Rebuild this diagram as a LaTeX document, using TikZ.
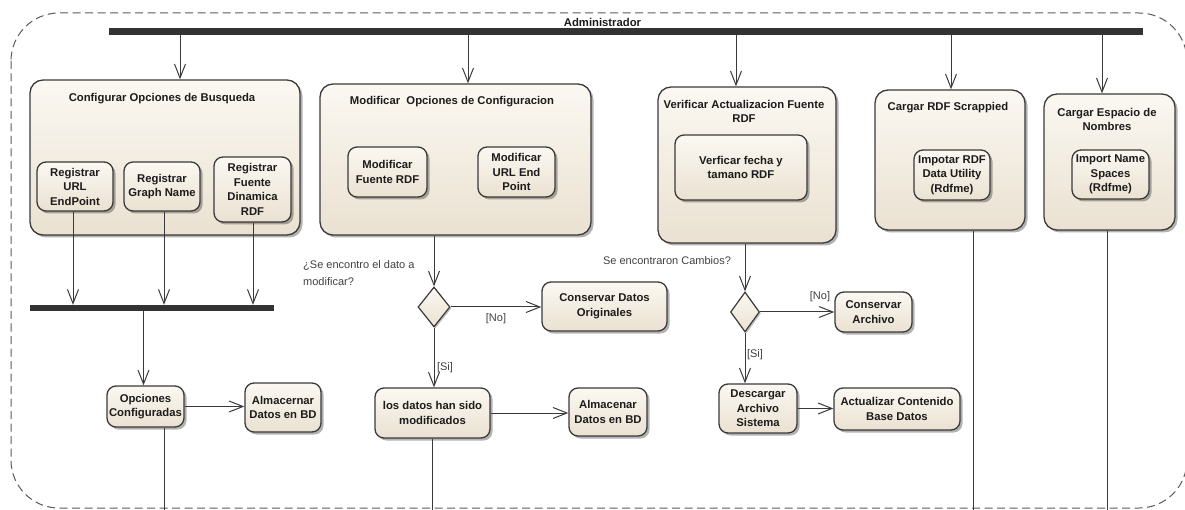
\documentclass[tikz,border=0pt]{standalone}
\usepackage{fontspec}
\setmainfont{Liberation Sans}
\usetikzlibrary{shapes.geometric,arrows.meta,shadows}

\definecolor{edge}{HTML}{3A3A3A}
\definecolor{ink}{HTML}{1C1C1C}
\definecolor{fillhi}{HTML}{FBF8F2}
\definecolor{filllo}{HTML}{EAE1D1}
\definecolor{lbl}{HTML}{404040}
\definecolor{frame}{HTML}{5A5A5A}
\definecolor{barc}{HTML}{333333}

\tikzset{
  act/.style={draw=edge, line width=1.3pt, rounded corners=#1,
    top color=fillhi, bottom color=filllo,
    drop shadow={shadow xshift=2.5pt, shadow yshift=-2.5pt, fill=black, opacity=0.3},
    inner sep=1pt, text=ink, align=center,
    font=\fontsize{11.3}{14.5}\selectfont\bfseries},
  act/.default=9pt,
  group/.style={act=13pt},
  title/.style={inner sep=0pt, text=ink, align=center,
    font=\fontsize{11.3}{14}\selectfont\bfseries},
  decision/.style={diamond, draw=edge, line width=1.2pt, inner sep=0pt,
    top color=fillhi, bottom color=filllo,
    drop shadow={shadow xshift=1.5pt, shadow yshift=-1.5pt, fill=black, opacity=0.25}},
  syncbar/.style={rectangle, fill=barc, inner sep=0pt},
  guard/.style={inner sep=0pt, text=lbl, align=left,
    font=\fontsize{11}{17}\selectfont},
  flow/.style={draw=edge, line width=1pt,
    -{Straight Barb[length=14pt, width=11pt, line width=1pt]}},
  plain/.style={draw=edge, line width=1pt},
  swimframe/.style={draw=frame, line width=1pt, dash pattern=on 8pt off 4.5pt,
    rounded corners=48pt}
}

\begin{document}
\begin{tikzpicture}[x=1pt, y=-1pt]
\useasboundingbox (0,0) rectangle (1185,510);

% activity frame
\draw[swimframe] (11,13) rectangle (1187,508);

% fork bar of the actor
\node[syncbar, minimum width=1034pt, minimum height=7pt] (top) at (626,31.5) {};
\node[title] (actor) at (602.5,22) {Administrador};

% group activities
\node[group, minimum width=270pt, minimum height=155pt] (cfg) at (165,157.5) {};
\node[title] (cfgT) at (162,99) {Configurar Opciones de Busqueda};
\node[act, minimum width=76pt, minimum height=49pt] (r1) at (75,186.5) {Registrar\\URL\\EndPoint};
\node[act, minimum width=76pt, minimum height=49pt] (r2) at (162,186.5) {Registrar\\Graph Name};
\node[act, minimum width=77pt, minimum height=65pt] (r3) at (252.5,189.5) {Registrar\\Fuente\\Dinamica\\RDF};

\node[group, minimum width=271pt, minimum height=151pt] (mod) at (455.5,159.5) {};
\node[title] (modT) at (452,102) {Modificar\ \ Opciones de Configuracion};
\node[act, minimum width=79pt, minimum height=50pt] (m1) at (387.5,172) {Modificar\\Fuente RDF};
\node[act, minimum width=77pt, minimum height=50pt] (m2) at (516.5,172) {Modificar\\URL End\\Point};

\node[group, minimum width=178pt, minimum height=156pt] (ver) at (747,165) {};
\node[title] (verT) at (744,111) {Verificar Actualizacion Fuente\\RDF};
\node[act, minimum width=132pt, minimum height=65pt] (v1) at (741,167.5) {Verficar fecha y\\tamano RDF};

\node[group, minimum width=150pt, minimum height=140pt] (crg) at (950,160) {};
\node[title] (crgT) at (948,108) {Cargar RDF Scrappied};
\node[act, minimum width=76pt, minimum height=50pt] (i4) at (952,175) {Impotar RDF\\Data Utility\\(Rdfme)};

\node[group, minimum width=131pt, minimum height=136pt] (esp) at (1109.5,162) {};
\node[title] (espT) at (1107,119) {Cargar Espacio de\\Nombres};
\node[act, minimum width=77pt, minimum height=49pt] (i5) at (1110.5,174.5) {Import Name\\Spaces\\(Rdfme)};

% join bar of the search options
\node[syncbar, minimum width=244pt, minimum height=6pt] (join) at (152,308) {};

% lower activities
\node[act, minimum width=77pt, minimum height=41pt] (opc) at (145.5,406.5) {Opciones\\Configuradas};
\node[act, minimum width=76pt, minimum height=49pt] (alm1) at (283,407.5) {Almacernar\\Datos en BD};
\node[act, minimum width=125pt, minimum height=49pt] (cons1) at (604.5,306.5) {Conservar Datos\\Originales};
\node[act, minimum width=115pt, minimum height=50pt] (datos) at (432.5,413) {los datos han sido\\modificados};
\node[act, minimum width=78pt, minimum height=48pt] (alm2) at (608,412) {Almacenar\\Datos en BD};
\node[act, minimum width=77pt, minimum height=40pt] (consA) at (873.5,312) {Conservar\\Archivo};
\node[act, minimum width=78pt, minimum height=49pt] (desc) at (758,408.5) {Descargar\\Archivo\\Sistema};
\node[act, minimum width=126pt, minimum height=42pt] (actz) at (897,409) {Actualizar Contenido\\Base Datos};

% decisions
\node[decision, minimum width=32pt, minimum height=40pt] (d1) at (434,307) {};
\node[decision, minimum width=29pt, minimum height=40pt] (d2) at (745,312) {};

% guards and questions
\node[guard, anchor=west] (q1) at (303,273.5) {¿Se encontro el dato a\\modificar?};
\node[guard] (q2) at (667,261) {Se encontraron Cambios?};
\node[guard] (no1) at (496,319) {[No]};
\node[guard] (si1) at (445,368) {[Si]};
\node[guard] (no2) at (820,297) {[No]};
\node[guard] (si2) at (755,355) {[Si]};

% free ends of the outgoing flows
\coordinate (e1) at (164,512);
\coordinate (e2) at (432,512);
\coordinate (e4) at (973,512);
\coordinate (e5) at (1107,512);

% flows from the actor bar
\draw[flow] ([xshift=15pt]cfg.north |- top.south) -- ([xshift=15pt]cfg.north);
\draw[flow] ([xshift=12.5pt]mod.north |- top.south) -- ([xshift=12.5pt]mod.north);
\draw[flow] ([xshift=-11pt]ver.north |- top.south) -- ([xshift=-11pt]ver.north);
\draw[flow] ([xshift=1pt]crg.north |- top.south) -- ([xshift=1pt]crg.north);
\draw[flow] ([xshift=-7.5pt]esp.north |- top.south) -- ([xshift=-7.5pt]esp.north);

% search options into the join
\draw[flow] ([xshift=-2pt]r1.south) -- ([xshift=-2pt]r1.south |- join.north);
\draw[flow] ([xshift=2pt]r2.south) -- ([xshift=2pt]r2.south |- join.north);
\draw[flow] ([xshift=0.5pt]r3.south) -- ([xshift=0.5pt]r3.south |- join.north);
\draw[flow] ([xshift=-2pt]opc.north |- join.south) -- ([xshift=-2pt]opc.north);
\draw[flow] (opc.east) -- (opc.east -| alm1.west);
\draw[plain] (opc.south -| e1) -- (e1);

% modification branch
\draw[flow] (mod.south -| d1.north) -- (d1.north);
\draw[flow] (d1.east) -- (d1.east -| cons1.west);
\draw[flow] (d1.south) -- (d1.south |- datos.north);
\draw[flow] (datos.east) -- (datos.east -| alm2.west);
\draw[plain] (datos.south -| e2) -- (e2);

% update check branch
\draw[flow] (ver.south -| d2.north) -- (d2.north);
\draw[flow] (d2.east) -- (d2.east -| consA.west);
\draw[flow] (d2.south) -- (d2.south |- desc.north);
\draw[flow] (desc.east) -- (desc.east -| actz.west);

% loading activities
\draw[plain] (crg.south -| e4) -- (e4);
\draw[plain] (esp.south -| e5) -- (e5);
\end{tikzpicture}
\end{document}
